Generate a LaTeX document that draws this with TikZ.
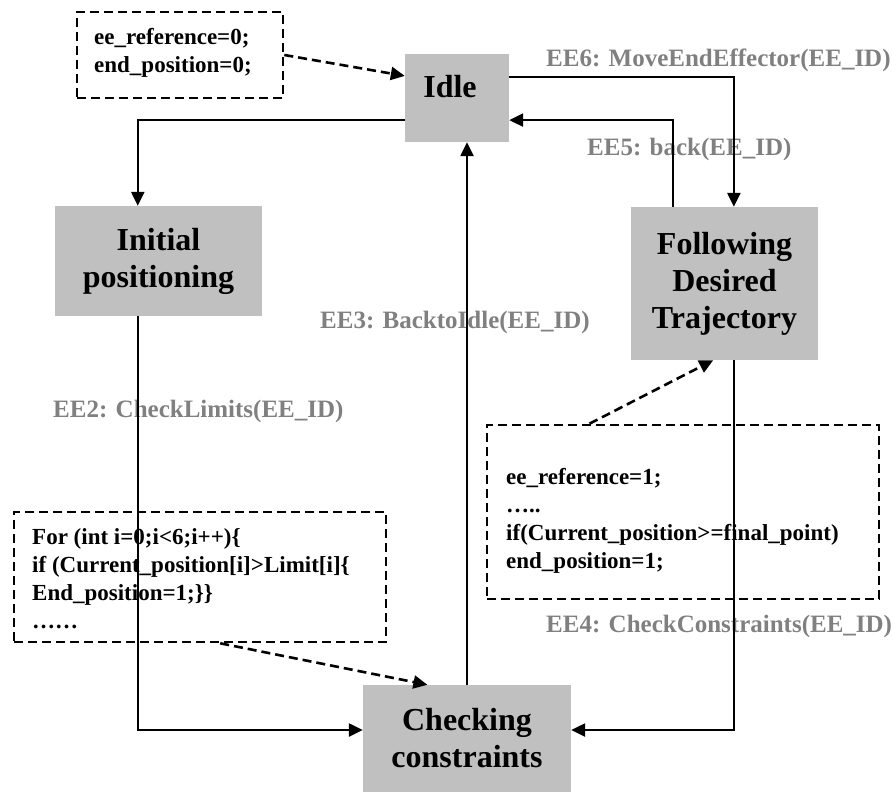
\documentclass[tikz,border=0pt]{standalone}
\usepackage{fontspec}
\setmainfont{Liberation Serif}
\usetikzlibrary{arrows.meta,calc}
\definecolor{boxgray}{HTML}{C0C0C0}
\definecolor{lblgray}{HTML}{808080}
\tikzset{
 statebox/.style={fill=boxgray, draw=none, inner sep=0pt, align=center, font=\fontsize{32}{37}\selectfont\bfseries},
 codebox/.style={draw=black, dash pattern=on 9pt off 5pt, line width=2.6pt, inner sep=0pt},
 codetext/.style={anchor=base west, align=left, inner sep=0pt, font=\fontsize{23}{28}\selectfont\bfseries},
 lbl/.style={anchor=base west, inner sep=0pt, text=lblgray, font=\fontsize{25}{30}\selectfont\bfseries},
 conn/.style={line width=2.4pt, -{Triangle[length=14pt,width=13pt]}},
 dconn/.style={line width=2.6pt, dash pattern=on 9pt off 5pt, -{Triangle[length=14pt,width=13pt]}},
}
\begin{document}
\begin{tikzpicture}[x=1pt,y=-1pt]
\useasboundingbox (0,0) rectangle (893,792);
% state boxes
\node[statebox, minimum width=104pt, minimum height=88pt] (idle) at (457,98) {};
\node[anchor=base, inner sep=0pt, font=\fontsize{32}{37}\selectfont\bfseries] (idletext) at (450,97) {Idle};
\node[statebox, minimum width=207pt, minimum height=110pt] (init) at (158.5,261) {Initial\\positioning};
\node[statebox, minimum width=187pt, minimum height=153pt] (follow) at (724.5,283.5) {Following\\Desired\\Trajectory};
\node[statebox, minimum width=208pt, minimum height=107pt] (check) at (467,738.5) {Checking\\constraints};
% code boxes (base anchor = baseline of last line)
\node[codebox, minimum width=206pt, minimum height=86pt] (code1) at (180,55) {};
\node[codetext] (code1t) at (94,72.5) {ee\_reference=0;\\end\_position=0;};
\node[codebox, minimum width=372pt, minimum height=130pt] (code2) at (200,577) {};
\node[codetext] (code2t) at (32,628) {For (int i=0;i<6;i++)\{\\if (Current\_position[i]>Limit[i]\{\\End\_position=1;\}\}\\……};
\node[codebox, minimum width=392pt, minimum height=174pt] (code3) at (683,512) {};
\node[codetext] (code3t) at (506,568) {ee\_reference=1;\\…..\\if(Current\_position>=final\_point)\\end\_position=1;};
% labels
\node[lbl] (ee6) at (546,66.7) {EE6: MoveEndEffector(EE\_ID)};
\node[lbl] (ee5) at (587,155) {EE5: back(EE\_ID)};
\node[lbl] (ee3) at (320,328) {EE3: BacktoIdle(EE\_ID)};
\node[lbl] (ee2) at (53,417) {EE2: CheckLimits(EE\_ID)};
\node[lbl] (ee4) at (546,632) {EE4: CheckConstraints(EE\_ID)};
% connectors
\draw[conn] ($(idle.north west)!0.75!(idle.south west)$) -| ($(init.north west)!0.4!(init.north east)$);
\draw[conn] ($(idle.north east)!0.26!(idle.south east)$) -| ($(follow.north west)!0.55!(follow.north east)$);
\draw[conn] ($(follow.north west)!0.225!(follow.north east)$) |- ($(idle.north east)!0.75!(idle.south east)$);
\draw[conn] ($(init.south west)!0.4!(init.south east)$) |- ([yshift=8.5pt]check.west);
\draw[conn] ($(follow.south west)!0.55!(follow.south east)$) |- ([yshift=8.5pt]check.east);
\draw[conn] (check.north) -- (check.north |- idle.south);
% dashed connectors
\draw[dconn] (code1.east) -- ($(idle.north west)!0.25!(idle.south west)$);
\draw[dconn] ($(code3.north west)!0.263!(code3.north east)$) -- ($(follow.south west)!0.44!(follow.south east)$);
\draw[dconn] ($(code2.south west)!0.554!(code2.south east)$) -- ($(check.north west)!0.31!(check.north east)$);
\end{tikzpicture}
\end{document}
